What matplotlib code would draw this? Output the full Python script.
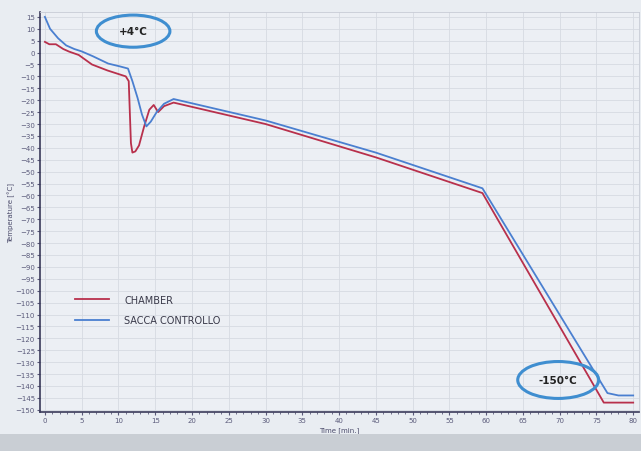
import matplotlib
matplotlib.use("Agg")
import matplotlib.pyplot as plt
from matplotlib.patches import Ellipse, Rectangle

# Data
chamber_t = [0, 0.6, 1.5, 2.5, 3.3, 4.6, 5.5, 6.4, 8.5, 11.0, 11.4, 11.7, 11.9, 12.3, 12.8, 13.5, 14.2, 14.8, 15.4, 16.2, 17.5, 30, 45, 59.5, 76.0, 80]
chamber_T = [4.5, 3.5, 3.5, 1.5, 0.4, -1, -3, -5, -7.5, -10, -12, -38, -42, -41.5, -39, -31, -24, -22, -25, -22.5, -21, -30, -44, -59, -147, -147]

sacca_t = [0, 0.7, 1.8, 2.9, 4.0, 5.0, 6.5, 8.6, 10.2, 11.3, 11.9, 12.6, 13.2, 13.8, 14.4, 15.2, 16.2, 17.5, 30, 45, 59.5, 76.5, 78, 80]
sacca_T = [15, 10, 6, 3, 1.5, 0.5, -1.5, -4.6, -5.8, -6.7, -12, -19, -26, -31, -29, -25, -21.5, -19.5, -28.5, -42, -57, -143, -144, -144]

xticks = list(range(0, 81, 5))
yticks = list(range(-150, 16, 5))

fig = plt.figure(figsize=(6.41, 4.52), dpi=100)
fig.patch.set_facecolor("#e9edf2")
fig.patches.append(Rectangle((0, 0), 1, 0.038, transform=fig.transFigure,
                             facecolor="#c9ced4", edgecolor="none", zorder=0))
ax = fig.add_axes([0.062, 0.086, 0.935, 0.885])
ax.set_facecolor("#eceff4")

ax.plot(chamber_t, chamber_T, color="#b8304c", lw=1.3, label="CHAMBER")
ax.plot(sacca_t, sacca_T, color="#4a7fd0", lw=1.3, label="SACCA CONTROLLO")

ax.set_xlim(-0.7, 80.8)
ax.set_ylim(-151, 17)
ax.set_xticks(xticks)
ax.set_yticks(yticks)
ax.set_xticks(range(0, 81, 1), minor=True)
ax.tick_params(axis="both", labelsize=5, colors="#5a5a7a", length=2, pad=1.5)
ax.tick_params(axis="x", which="minor", length=1.5, colors="#5a5a7a")
ax.grid(True, color="#d6dae2", lw=0.6)
for s in ["left", "bottom"]:
    ax.spines[s].set_color("#3a3a5a")
    ax.spines[s].set_linewidth(1.2)
for s in ["top", "right"]:
    ax.spines[s].set_color("#c8ccd6")
    ax.spines[s].set_linewidth(0.6)

ax.set_ylabel("Temperature [°C]", fontsize=5, color="#4a4a6a", labelpad=0)
ax.set_xlabel("Time [min.]", fontsize=5, color="#4a4a6a", labelpad=1)
ax.xaxis.set_label_coords(0.5, -0.035)

leg = ax.legend(loc="upper left", bbox_to_anchor=(0.045, 0.315), frameon=False,
                fontsize=7, handlelength=3.5, handletextpad=1.5, labelspacing=1.05,
                labelcolor="#3a3a4a")

ax.add_patch(Ellipse((12.0, 9.0), 10.0, 13.5, fill=False, edgecolor="#3f8ed0", lw=2.2, zorder=5))
ax.text(12.0, 9.0, "+4°C", ha="center", va="center", fontsize=7.5, fontweight="bold", color="#222222", zorder=6)
ax.add_patch(Ellipse((69.8, -137.5), 11, 15.5, fill=False, edgecolor="#3f8ed0", lw=2.2, zorder=5))
ax.text(69.8, -137.5, "-150°C", ha="center", va="center", fontsize=7.5, fontweight="bold", color="#222222", zorder=6)

fig.savefig("out.png", dpi=100, facecolor=fig.get_facecolor())
